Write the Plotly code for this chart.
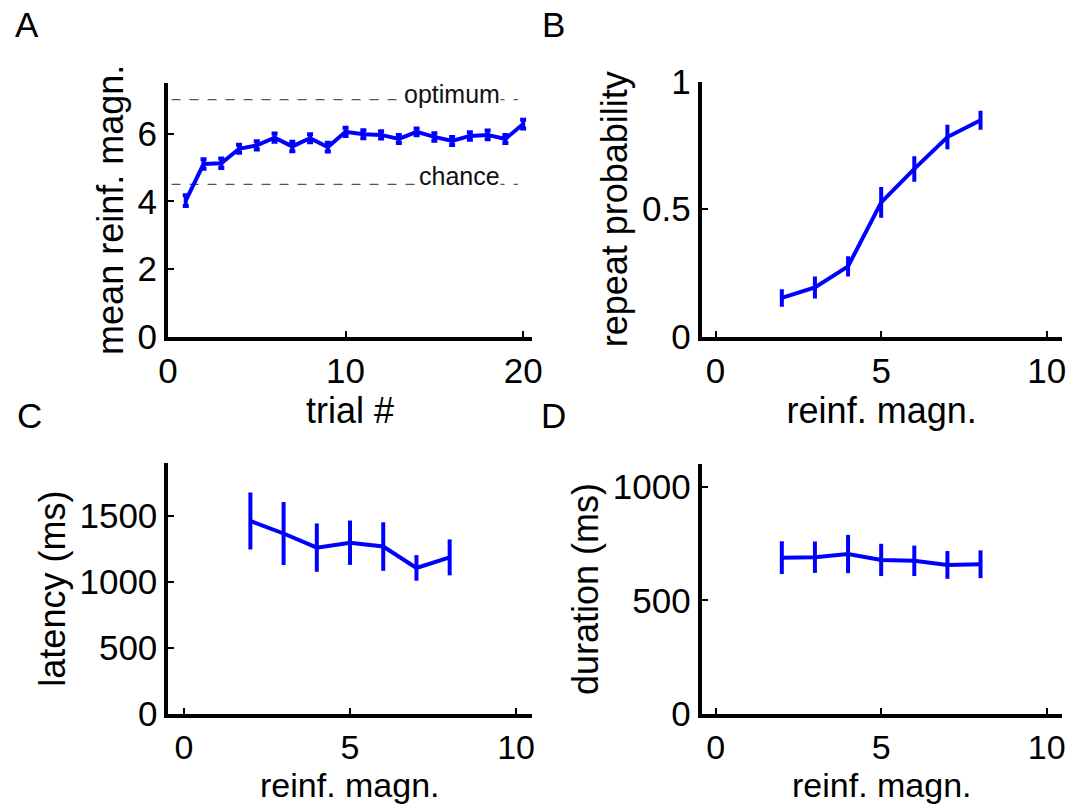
import plotly.graph_objects as go

# ---------------- data ----------------
trial = list(range(1, 21))
mean_reinf = [4.02, 5.10, 5.12, 5.55, 5.65, 5.88, 5.62, 5.86, 5.60, 6.05,
              5.98, 5.96, 5.84, 6.05, 5.90, 5.78, 5.93, 5.96, 5.84, 6.28]
mean_reinf_err = [0.16, 0.14, 0.14, 0.12, 0.12, 0.12, 0.14, 0.12, 0.13, 0.12,
                  0.12, 0.11, 0.12, 0.10, 0.11, 0.12, 0.11, 0.13, 0.12, 0.13]
optimum_level = 7.0
chance_level = 4.5

magn = [2, 3, 4, 5, 6, 7, 8]
repeat_prob = [0.152, 0.193, 0.276, 0.527, 0.658, 0.783, 0.849]
repeat_err = [0.034, 0.043, 0.040, 0.060, 0.050, 0.048, 0.037]

latency = [1463, 1368, 1261, 1298, 1269, 1107, 1187]
latency_err = [216, 239, 183, 168, 184, 97, 136]

duration = [688, 690, 704, 678, 674, 656, 659]
duration_err = [72, 69, 84, 71, 67, 61, 61]

BLUE = "#0000FF"
FONT = "Liberation Sans, Arial, Helvetica, sans-serif"
FS = 35
W, H = 1084, 805

fig = go.Figure()

# Panel A
fig.add_trace(go.Scatter(x=trial, y=mean_reinf, mode="lines",
                         line=dict(color=BLUE, width=4),
                         error_y=dict(type="data", array=mean_reinf_err, color=BLUE,
                                      thickness=4, width=3),
                         xaxis="x", yaxis="y", showlegend=False))
# Panel B
fig.add_trace(go.Scatter(x=magn, y=repeat_prob, mode="lines",
                         line=dict(color=BLUE, width=4),
                         error_y=dict(type="data", array=repeat_err, color=BLUE,
                                      thickness=4, width=0),
                         xaxis="x2", yaxis="y2", showlegend=False))
# Panel C
fig.add_trace(go.Scatter(x=magn, y=latency, mode="lines",
                         line=dict(color=BLUE, width=4),
                         error_y=dict(type="data", array=latency_err, color=BLUE,
                                      thickness=4, width=0),
                         xaxis="x3", yaxis="y3", showlegend=False))
# Panel D
fig.add_trace(go.Scatter(x=magn, y=duration, mode="lines",
                         line=dict(color=BLUE, width=4),
                         error_y=dict(type="data", array=duration_err, color=BLUE,
                                      thickness=4, width=0),
                         xaxis="x4", yaxis="y4", showlegend=False))

# reference lines in A
for lvl in (optimum_level, chance_level):
    fig.add_shape(type="line", xref="x", yref="y", x0=0.2, x1=19.7, y0=lvl, y1=lvl,
                  line=dict(color="#555555", width=1.3, dash="dash"), layer="below")

fig.add_annotation(x=16.0, y=optimum_level, xref="x", yref="y", text="optimum",
                   showarrow=False, font=dict(size=25, color="#111111", family=FONT),
                   bgcolor="white", yshift=6, borderpad=0)
fig.add_annotation(x=16.4, y=chance_level, xref="x", yref="y", text="chance",
                   showarrow=False, font=dict(size=25, color="#111111", family=FONT),
                   bgcolor="white", yshift=8, borderpad=0)

# panel letters
for letter, px, py in [("A", 27, 25), ("B", 553, 25), ("C", 29, 415), ("D", 553, 415)]:
    fig.add_annotation(x=px / W, y=1 - py / H, xref="paper", yref="paper",
                       text=letter, showarrow=False, xanchor="center", yanchor="middle",
                       font=dict(size=35, color="black", family=FONT))

# x-axis titles of the bottom row (placed explicitly so they stay clear of tick labels)
for xc in ((168 + 532) / 2, (702 + 1062) / 2):
    fig.add_annotation(x=xc / W, y=0, xref="paper", yref="paper",
                       text="reinf. magn.", showarrow=False, xanchor="center",
                       yanchor="bottom", borderpad=0,
                       font=dict(size=34, color="black", family=FONT))

axis_common = dict(showline=True, linewidth=4, linecolor="black", ticks="inside",
                   ticklen=6, tickwidth=2, tickcolor="black", showgrid=False,
                   zeroline=False, mirror=False, automargin=False,
                   tickfont=dict(size=FS, family=FONT, color="black"))

def ax(**kw):
    d = dict(axis_common)
    d.update(kw)
    return d

small_tick = dict(size=34, family=FONT, color="black")

fig.update_layout(
    width=W, height=H,
    margin=dict(l=0, r=0, t=0, b=0),
    paper_bgcolor="white", plot_bgcolor="white",
    font=dict(family=FONT, size=FS, color="black"),
    xaxis=ax(domain=[0.1550, 0.4908], range=[0, 20.5], tickvals=[0, 10, 20],
             anchor="y", title=dict(text="trial #", font=dict(size=36), standoff=1)),
    yaxis=ax(domain=[0.5814, 0.8973], range=[0, 7.5], tickvals=[0, 2, 4, 6],
             anchor="x", title=dict(text="mean reinf. magn.", font=dict(size=36), standoff=4)),
    xaxis2=ax(domain=[0.6473, 0.9794], range=[-0.42, 10.45], tickvals=[0, 5, 10],
              anchor="y2", title=dict(text="reinf. magn.", font=dict(size=36), standoff=1)),
    yaxis2=ax(domain=[0.5817, 0.8985], range=[0, 1], tickvals=[0, 0.5, 1],
              ticktext=["0", "0.5", "1"],
              anchor="x2", title=dict(text="repeat probability", font=dict(size=36), standoff=4)),
    xaxis3=ax(domain=[0.1553, 0.4905], range=[-0.47, 10.47], tickvals=[0, 5, 10],
              anchor="y3", tickfont=small_tick),
    yaxis3=ax(domain=[0.1130, 0.4245], range=[0, 1900], tickvals=[0, 500, 1000, 1500],
              anchor="x3", title=dict(text="latency (ms)", font=dict(size=36), standoff=4)),
    xaxis4=ax(domain=[0.6473, 0.9794], range=[-0.42, 10.45], tickvals=[0, 5, 10],
              anchor="y4", tickfont=small_tick),
    yaxis4=ax(domain=[0.1130, 0.4236], range=[0, 1100], tickvals=[0, 500, 1000],
              anchor="x4", title=dict(text="duration (ms)", font=dict(size=36), standoff=4)),
)

fig.write_html("out.html")
